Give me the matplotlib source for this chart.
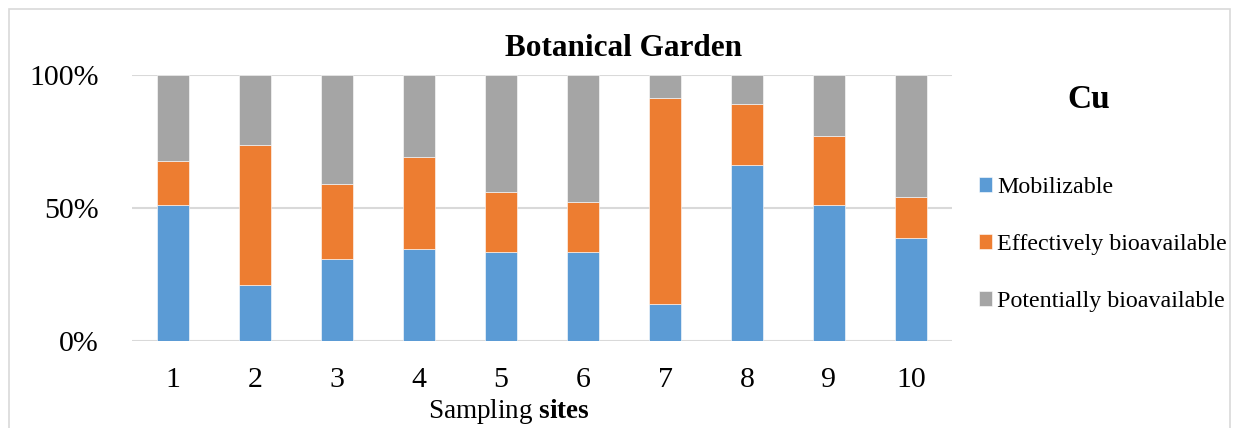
import matplotlib
matplotlib.use("Agg")
import matplotlib.pyplot as plt
import numpy as np
from matplotlib.patches import Rectangle

plt.rcParams['font.family'] = ['Liberation Serif', 'DejaVu Serif']
plt.rcParams['mathtext.fontset'] = 'custom'
plt.rcParams['mathtext.rm'] = 'Liberation Serif'
plt.rcParams['mathtext.bf'] = 'Liberation Serif:bold'

sites = ["1", "2", "3", "4", "5", "6", "7", "8", "9", "10"]
mobilizable = [51.1, 21.2, 30.9, 34.6, 33.6, 33.4, 13.8, 66.4, 51.1, 38.8]
effective = [16.5, 52.5, 28.1, 34.5, 22.4, 19.0, 77.8, 22.9, 26.2, 15.3]
potential = [100 - a - b for a, b in zip(mobilizable, effective)]

labels = ["Mobilizable", "Effectively bioavailable", "Potentially bioavailable"]
colors = ["#5B9BD5", "#ED7D31", "#A5A5A5"]

W, H = 1238, 428
fig = plt.figure(figsize=(W / 100, H / 100), dpi=100)
ax = fig.add_axes([132 / W, 1 - 341 / H, 820 / W, (341 - 75.3) / H])

# outer frame like the excel chart area
fig.patches.append(Rectangle((9 / W, -0.1), 1221 / W, 1.1 - 9 / H, transform=fig.transFigure,
                             fill=False, edgecolor="#d9d9d9", linewidth=1.2))

x = np.arange(len(sites))
bottom = np.zeros(len(sites))
handles = []
for vals, lab, col in zip([mobilizable, effective, potential], labels, colors):
    b = ax.bar(x, vals, 0.4, bottom=bottom, color=col, label=lab,
               edgecolor="white", linewidth=0.4, zorder=3)
    handles.append(b)
    bottom += np.array(vals)

ax.set_xlim(-0.5, len(sites) - 0.5)
ax.set_ylim(0, 100)
ax.set_yticks([0, 50, 100])
ax.set_yticklabels(["0%", "50%", "100%"])
ax.set_xticks(x)
ax.set_xticklabels(sites)
ax.tick_params(axis="both", length=0, labelsize=21.5)
ax.tick_params(axis="y", pad=24)
ax.tick_params(axis="x", pad=19)
ax.yaxis.grid(True, color="#d9d9d9", linewidth=1.5, zorder=0)
ax.set_axisbelow(True)
for s in ax.spines.values():
    s.set_visible(False)

fig.text(624 / W, 1 - 49 / H, "Botanical Garden", ha="center", va="center",
         fontsize=22.5, fontweight="bold")
fig.text(1089 / W, 1 - 99 / H, "Cu", ha="center", va="center",
         fontsize=24, fontweight="bold")
fig.text(509 / W, 1 - 411 / H, r"Sampling $\mathbf{sites}$", ha="center", va="center",
         fontsize=19.5)

fig.legend(handles=handles, labels=labels, loc="upper left",
           bbox_to_anchor=(979 / W, 1 - 177 / H), frameon=False, fontsize=17.3,
           handlelength=0.55, handleheight=0.55, handletextpad=0.2, labelspacing=1.5,
           borderpad=0, borderaxespad=0)

fig.savefig("out.png", dpi=100)
